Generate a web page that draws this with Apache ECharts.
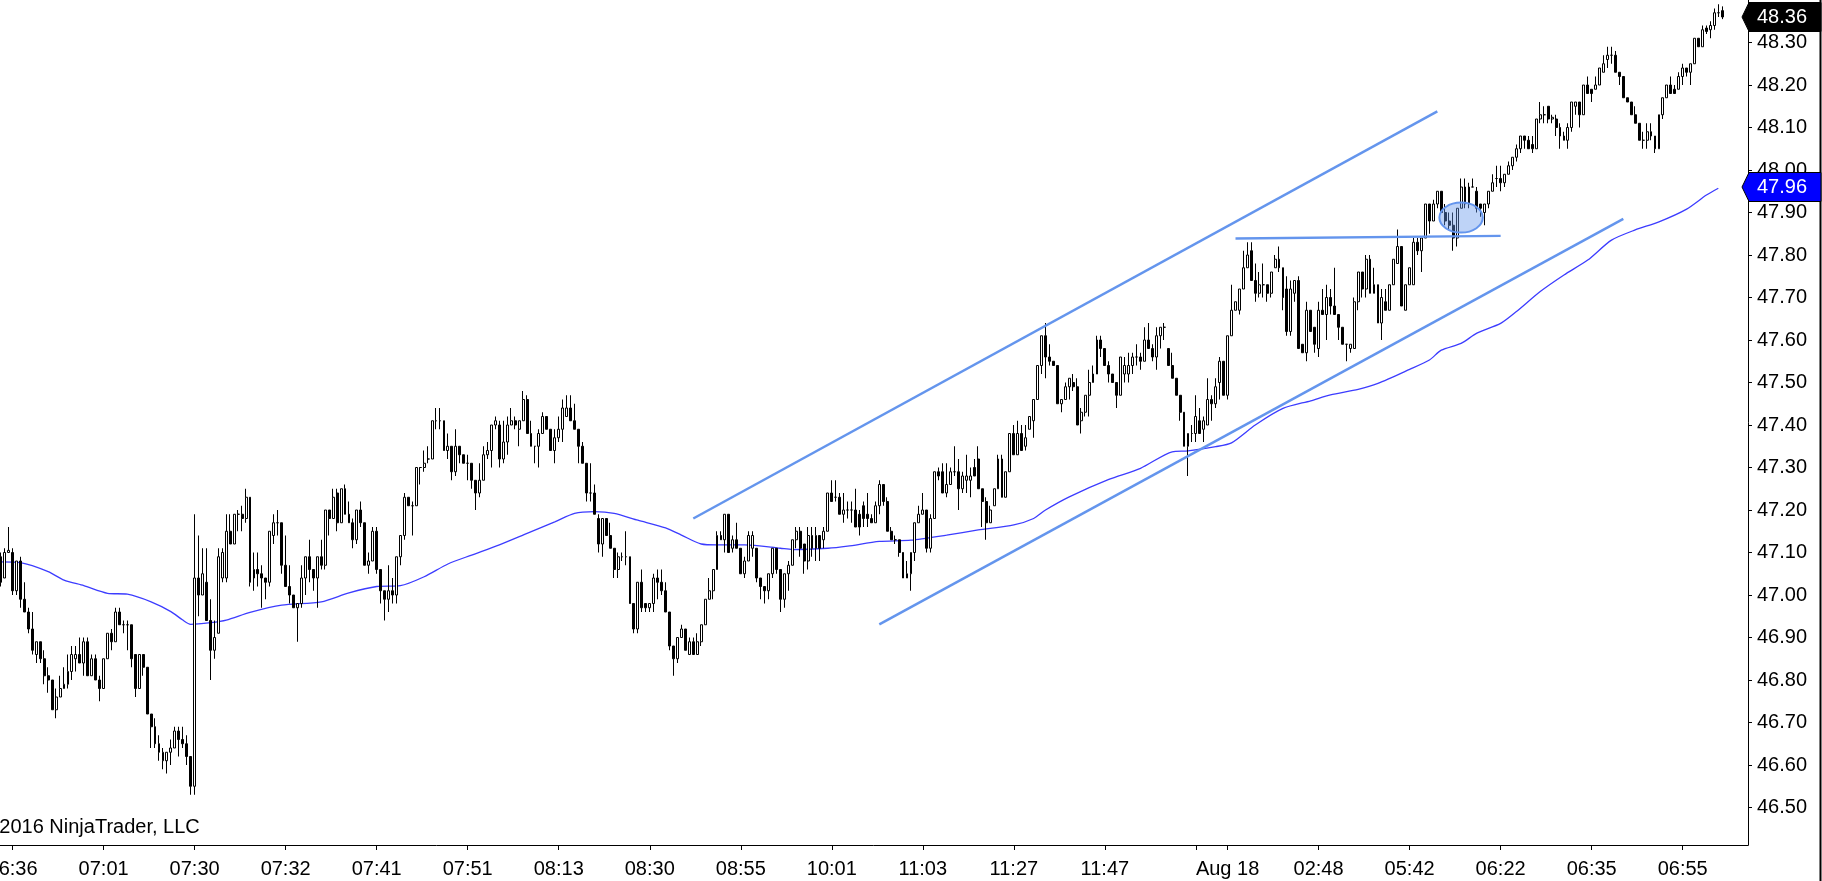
<!DOCTYPE html>
<html>
<head>
<meta charset="utf-8">
<script src="https://cdn.jsdelivr.net/npm/echarts@6.0.0/dist/echarts.min.js"></script>
<style>html,body{margin:0;padding:0;background:#fff;overflow:hidden}#c{width:1822px;height:881px}</style>
</head>
<body>
<div id="c"></div>
<script>
const opens = [
47.09,47.04,47.10,47.10,47.01,47.08,46.99,46.96,46.92,46.86,
46.89,46.85,46.81,46.80,46.73,46.76,46.78,46.79,46.82,46.85,
46.86,46.84,46.89,46.81,46.85,46.80,46.78,46.85,46.91,46.89,
46.96,46.93,46.93,46.93,46.86,46.78,46.86,46.83,46.72,46.69,
46.65,46.61,46.61,46.63,46.64,46.68,46.66,46.65,46.62,46.55,
47.04,47.00,47.03,46.94,46.87,46.91,47.04,47.04,47.15,47.12,
47.19,47.19,47.18,47.23,47.04,47.06,47.05,47.04,47.03,47.14,
47.17,47.17,47.07,47.02,47.00,46.97,46.98,47.04,47.09,47.06,
47.04,47.09,47.07,47.20,47.18,47.24,47.17,47.25,47.19,47.17,
47.13,47.20,47.17,47.07,47.08,47.15,47.06,47.01,46.99,47.01,
47.00,47.09,47.14,47.23,47.21,47.21,47.30,47.30,47.32,47.32,
47.41,47.41,47.41,47.34,47.35,47.29,47.35,47.33,47.31,47.31,
47.27,47.24,47.27,47.33,47.34,47.40,47.40,47.32,47.36,47.40,
47.41,47.39,47.41,47.46,47.38,47.35,47.35,47.38,47.42,47.39,
47.34,47.37,47.39,47.42,47.44,47.41,47.39,47.35,47.31,47.24,
47.24,47.18,47.12,47.18,47.14,47.11,47.06,47.09,47.09,47.09,
46.98,46.92,47.03,46.98,46.97,46.98,47.04,47.03,47.01,46.96,
46.88,46.85,46.90,46.92,46.86,46.89,46.86,46.89,46.93,46.99,
47.01,47.06,47.14,47.13,47.19,47.11,47.13,47.11,47.05,47.08,
47.11,47.11,47.04,47.02,47.01,47.05,47.11,47.06,46.99,47.05,
47.07,47.13,47.15,47.12,47.08,47.14,47.11,47.14,47.13,47.15,
47.24,47.23,47.23,47.19,47.20,47.20,47.20,47.19,47.21,47.19,
47.18,47.17,47.21,47.26,47.22,47.15,47.13,47.13,47.10,47.04,
47.05,47.10,47.17,47.19,47.20,47.11,47.18,47.29,47.29,47.24,
47.26,47.29,47.29,47.25,47.27,47.27,47.30,47.32,47.25,47.22,
47.17,47.21,47.25,47.32,47.23,47.29,47.38,47.33,47.38,47.35,
47.39,47.41,47.46,47.54,47.61,47.56,47.55,47.54,47.45,47.46,
47.49,47.50,47.49,47.41,47.43,47.47,47.50,47.52,47.60,47.58,
47.54,47.52,47.50,47.47,47.52,47.52,47.54,47.56,47.56,47.55,
47.60,47.58,47.56,47.61,47.63,47.58,47.54,47.51,47.47,47.43,
47.35,47.38,47.38,47.41,47.39,47.40,47.46,47.45,47.50,47.55,
47.47,47.61,47.67,47.67,47.72,47.77,47.81,47.74,47.71,47.73,
47.73,47.71,47.77,47.79,47.77,47.72,47.62,47.71,47.74,47.59,
47.57,47.67,47.63,47.58,47.67,47.66,47.70,47.68,47.66,47.63,
47.59,47.58,47.58,47.69,47.76,47.72,47.79,47.73,47.73,47.64,
47.69,47.67,47.73,47.78,47.82,47.67,47.73,47.73,47.83,47.81,
47.84,47.92,47.88,47.92,47.95,47.90,47.88,47.87,47.84,47.91,
47.96,47.92,47.96,47.95,47.92,47.90,47.92,47.95,47.98,47.98,
47.97,47.99,48.01,48.03,48.05,48.08,48.07,48.06,48.05,48.12,
48.13,48.15,48.12,48.12,48.10,48.08,48.07,48.10,48.15,48.16,
48.13,48.20,48.19,48.19,48.20,48.23,48.26,48.27,48.27,48.23,
48.22,48.17,48.16,48.13,48.11,48.07,48.07,48.09,48.08,48.05,
48.13,48.17,48.20,48.19,48.19,48.22,48.24,48.23,48.25,48.31,
48.29,48.334,48.33,48.34,48.37,48.375
];
const closes = [
47.03,47.10,47.105,47.01,47.08,46.99,46.96,46.92,46.87,46.89,
46.85,46.81,46.80,46.73,46.76,46.78,46.79,46.82,46.86,46.86,
46.84,46.89,46.81,46.85,46.80,46.78,46.85,46.91,46.89,46.96,
46.93,46.93,46.93,46.85,46.78,46.86,46.83,46.72,46.69,46.65,
46.63,46.63,46.63,46.64,46.68,46.66,46.65,46.62,46.55,47.04,
47.00,47.05,46.94,46.87,46.90,47.09,47.10,47.15,47.12,47.19,
47.19,47.18,47.23,47.03,47.06,47.05,47.04,47.03,47.15,47.17,
47.17,47.07,47.02,47.00,46.97,46.98,47.04,47.09,47.06,47.04,
47.09,47.07,47.20,47.18,47.23,47.17,47.25,47.19,47.17,47.13,
47.20,47.17,47.07,47.08,47.15,47.06,47.01,46.99,47.01,47.00,
47.09,47.14,47.23,47.21,47.21,47.30,47.30,47.31,47.32,47.41,
47.41,47.41,47.34,47.35,47.29,47.35,47.33,47.31,47.31,47.27,
47.24,47.27,47.33,47.34,47.40,47.41,47.32,47.36,47.40,47.41,
47.40,47.41,47.46,47.38,47.35,47.35,47.38,47.42,47.39,47.34,
47.37,47.39,47.44,47.44,47.41,47.39,47.35,47.31,47.24,47.24,
47.19,47.12,47.18,47.14,47.11,47.06,47.09,47.09,47.09,46.98,
46.92,47.03,46.97,46.97,46.98,47.04,47.03,47.01,46.96,46.88,
46.85,46.90,46.92,46.87,46.89,46.86,46.89,46.93,46.99,47.01,
47.06,47.14,47.13,47.19,47.10,47.13,47.11,47.05,47.08,47.14,
47.14,47.04,47.02,47.01,47.05,47.11,47.06,46.99,47.05,47.07,
47.13,47.15,47.11,47.08,47.14,47.11,47.14,47.11,47.15,47.24,
47.22,47.23,47.19,47.20,47.20,47.20,47.16,47.16,47.18,47.18,
47.17,47.21,47.26,47.22,47.15,47.13,47.13,47.10,47.04,47.05,
47.10,47.17,47.19,47.20,47.11,47.18,47.29,47.28,47.24,47.26,
47.29,47.29,47.25,47.28,47.28,47.28,47.28,47.25,47.22,47.17,
47.20,47.25,47.32,47.23,47.29,47.38,47.33,47.38,47.34,47.37,
47.42,47.46,47.54,47.61,47.56,47.55,47.54,47.45,47.46,47.49,
47.51,47.49,47.40,47.43,47.47,47.50,47.52,47.60,47.58,47.54,
47.52,47.50,47.47,47.56,47.54,47.54,47.56,47.56,47.55,47.60,
47.58,47.56,47.61,47.63,47.63,47.54,47.51,47.47,47.43,47.35,
47.38,47.38,47.42,47.38,47.41,47.46,47.45,47.49,47.55,47.47,
47.61,47.67,47.69,47.72,47.77,47.80,47.74,47.71,47.73,47.73,
47.71,47.76,47.79,47.77,47.70,47.62,47.72,47.74,47.58,47.57,
47.67,47.62,47.59,47.67,47.66,47.70,47.68,47.66,47.63,47.59,
47.59,47.59,47.69,47.76,47.72,47.79,47.71,47.71,47.64,47.70,
47.67,47.73,47.79,47.82,47.68,47.73,47.77,47.83,47.81,47.84,
47.92,47.88,47.92,47.95,47.90,47.88,47.87,47.84,47.91,47.96,
47.92,47.96,47.96,47.91,47.91,47.92,47.95,47.97,47.98,47.97,
47.99,48.01,48.03,48.05,48.08,48.07,48.05,48.05,48.12,48.13,
48.13,48.12,48.124,48.10,48.08,48.07,48.10,48.16,48.16,48.13,
48.20,48.18,48.18,48.20,48.24,48.25,48.27,48.27,48.23,48.22,
48.17,48.16,48.13,48.11,48.07,48.07,48.09,48.08,48.05,48.13,
48.17,48.20,48.18,48.18,48.22,48.24,48.23,48.25,48.31,48.29,
48.33,48.326,48.34,48.37,48.37,48.36
];
const lows = [
47.02,47.04,47.10,47.00,47.00,46.97,46.96,46.91,46.86,46.84,
46.84,46.79,46.77,46.73,46.71,46.76,46.78,46.78,46.80,46.82,
46.84,46.81,46.81,46.81,46.80,46.75,46.78,46.85,46.87,46.89,
46.93,46.91,46.87,46.83,46.76,46.78,46.81,46.72,46.64,46.64,
46.61,46.59,46.58,46.60,46.64,46.62,46.64,46.60,46.53,46.53,
46.95,47.00,46.94,46.80,46.85,46.91,47.03,47.03,47.12,47.12,
47.15,47.15,47.17,47.02,47.01,47.02,46.97,46.99,47.02,47.12,
47.14,47.05,47.02,46.98,46.97,46.89,46.97,47.00,47.03,47.01,
46.97,47.06,47.06,47.14,47.18,47.15,47.17,47.19,47.17,47.11,
47.12,47.16,47.07,47.05,47.08,47.05,46.98,46.94,46.96,46.98,
46.98,47.07,47.13,47.21,47.14,47.21,47.26,47.29,47.31,47.32,
47.39,47.39,47.34,47.32,47.27,47.28,47.31,47.31,47.27,47.25,
47.20,47.23,47.27,47.32,47.30,47.39,47.30,47.31,47.33,47.40,
47.39,47.35,47.41,47.38,47.35,47.31,47.30,47.38,47.39,47.34,
47.31,47.36,47.36,47.42,47.41,47.39,47.31,47.31,47.22,47.22,
47.19,47.10,47.09,47.14,47.11,47.04,47.04,47.08,47.07,46.98,
46.91,46.91,46.96,46.96,46.96,46.96,46.99,47.00,46.96,46.87,
46.81,46.84,46.90,46.87,46.86,46.86,46.86,46.88,46.93,46.99,
46.99,47.06,47.13,47.10,47.10,47.10,47.11,47.05,47.04,47.08,
47.09,47.03,46.99,46.98,46.99,47.04,47.05,46.96,46.97,47.01,
47.07,47.11,47.09,47.05,47.06,47.09,47.08,47.08,47.11,47.15,
47.22,47.22,47.19,47.17,47.18,47.17,47.16,47.14,47.16,47.16,
47.17,47.17,47.19,47.21,47.15,47.13,47.12,47.09,47.04,47.04,
47.01,47.08,47.17,47.19,47.10,47.10,47.18,47.27,47.24,47.23,
47.26,47.28,47.20,47.24,47.24,47.23,47.28,47.25,47.16,47.13,
47.17,47.21,47.25,47.23,47.23,47.29,47.33,47.33,47.34,47.34,
47.39,47.37,47.46,47.52,47.51,47.54,47.54,47.45,47.43,47.46,
47.46,47.48,47.40,47.38,47.42,47.42,47.50,47.52,47.56,47.54,
47.50,47.50,47.44,47.47,47.50,47.50,47.52,47.54,47.53,47.55,
47.58,47.55,47.53,47.58,47.60,47.54,47.51,47.47,47.41,47.35,
47.28,47.36,47.36,47.38,47.36,47.40,47.41,47.44,47.46,47.47,
47.46,47.61,47.67,47.66,47.72,47.77,47.74,47.69,47.70,47.70,
47.69,47.70,47.77,47.76,47.67,47.61,47.61,47.69,47.58,47.57,
47.55,47.62,47.57,47.56,47.66,47.60,47.66,47.66,47.60,47.59,
47.55,47.57,47.58,47.67,47.70,47.70,47.71,47.71,47.64,47.60,
47.67,47.67,47.73,47.78,47.68,47.67,47.73,47.73,47.80,47.76,
47.84,47.85,47.88,47.91,47.90,47.87,47.86,47.81,47.82,47.91,
47.91,47.91,47.96,47.90,47.89,47.87,47.91,47.95,47.96,47.95,
47.96,47.99,48.00,48.02,48.04,48.05,48.05,48.04,48.05,48.11,
48.11,48.11,48.11,48.08,48.05,48.07,48.05,48.09,48.13,48.10,
48.13,48.18,48.16,48.19,48.20,48.23,48.24,48.25,48.23,48.20,
48.17,48.16,48.13,48.11,48.07,48.05,48.05,48.07,48.04,48.05,
48.12,48.17,48.18,48.18,48.19,48.20,48.22,48.20,48.25,48.29,
48.29,48.32,48.31,48.33,48.36,48.355
];
const highs = [
47.10,47.11,47.16,47.11,47.08,47.09,47.03,46.97,46.96,46.89,
46.89,46.87,46.83,46.80,46.78,46.81,46.83,46.86,46.88,46.88,
46.90,46.90,46.90,46.86,46.86,46.81,46.85,46.91,46.92,46.97,
46.97,46.94,46.94,46.93,46.86,46.86,46.86,46.83,46.72,46.71,
46.67,46.64,46.63,46.66,46.69,46.69,46.69,46.67,46.62,47.19,
47.14,47.11,47.11,46.99,46.94,47.11,47.11,47.19,47.19,47.19,
47.20,47.21,47.25,47.23,47.10,47.10,47.07,47.04,47.15,47.19,
47.20,47.17,47.14,47.07,47.00,46.98,47.07,47.09,47.13,47.06,
47.09,47.13,47.20,47.20,47.25,47.25,47.25,47.26,47.22,47.18,
47.20,47.22,47.17,47.10,47.16,47.16,47.06,47.01,47.07,47.04,
47.09,47.14,47.24,47.23,47.22,47.30,47.30,47.34,47.35,47.41,
47.44,47.44,47.41,47.38,47.35,47.39,47.35,47.33,47.33,47.31,
47.27,47.31,47.35,47.36,47.40,47.42,47.41,47.41,47.42,47.44,
47.42,47.41,47.48,47.47,47.41,47.35,47.39,47.43,47.42,47.39,
47.39,47.42,47.46,47.47,47.47,47.45,47.39,47.36,47.31,47.31,
47.26,47.19,47.18,47.18,47.17,47.11,47.10,47.10,47.15,47.09,
46.98,47.03,47.06,46.98,46.98,47.05,47.06,47.06,47.03,46.96,
46.88,46.90,46.93,46.92,46.90,46.90,46.91,46.93,46.99,47.04,
47.06,47.15,47.15,47.19,47.19,47.14,47.17,47.11,47.09,47.15,
47.15,47.11,47.04,47.02,47.05,47.11,47.11,47.06,47.05,47.08,
47.13,47.16,47.16,47.12,47.16,47.16,47.16,47.14,47.16,47.24,
47.27,47.27,47.24,47.24,47.22,47.22,47.25,47.20,47.22,47.24,
47.19,47.22,47.27,47.26,47.23,47.16,47.14,47.13,47.10,47.08,
47.10,47.17,47.21,47.24,47.20,47.19,47.29,47.30,47.31,47.31,
47.30,47.35,47.32,47.29,47.33,47.30,47.32,47.35,47.25,47.23,
47.21,47.25,47.33,47.33,47.29,47.38,47.40,47.41,47.40,47.40,
47.42,47.46,47.54,47.61,47.64,47.59,47.55,47.54,47.46,47.50,
47.51,47.52,47.51,47.44,47.47,47.53,47.54,47.61,47.61,47.58,
47.55,47.52,47.50,47.56,47.56,47.57,47.57,47.59,47.57,47.63,
47.64,47.59,47.63,47.63,47.64,47.58,47.57,47.51,47.47,47.43,
47.38,47.40,47.47,47.44,47.42,47.51,47.47,47.51,47.56,47.55,
47.61,47.73,47.69,47.72,47.81,47.83,47.83,47.78,47.76,47.78,
47.73,47.76,47.80,47.82,47.77,47.75,47.74,47.74,47.75,47.59,
47.69,47.67,47.63,47.69,47.72,47.73,47.72,47.77,47.66,47.63,
47.59,47.59,47.70,47.76,47.76,47.80,47.80,47.77,47.73,47.72,
47.72,47.73,47.79,47.86,47.82,47.73,47.77,47.84,47.84,47.84,
47.92,47.92,47.93,47.95,47.95,47.92,47.90,47.90,47.91,47.98,
47.98,47.97,47.98,47.96,47.92,47.92,47.95,47.99,48.01,48.01,
47.99,48.02,48.03,48.06,48.08,48.08,48.08,48.08,48.12,48.16,
48.15,48.15,48.13,48.13,48.11,48.09,48.11,48.16,48.16,48.16,
48.20,48.22,48.19,48.22,48.24,48.27,48.29,48.29,48.28,48.23,
48.22,48.17,48.16,48.15,48.11,48.09,48.11,48.11,48.08,48.13,
48.17,48.20,48.22,48.20,48.23,48.25,48.24,48.25,48.31,48.31,
48.34,48.34,48.35,48.38,48.39,48.385
];

// moving average at selected bars
const maIndex = [0,5,12,16,21,27,32,38,43,46,48,53,57,63,71,81,88,95,101,107,113,119,126,133,140,145,150,155,161,168,172,177,181,188,197,200,209,214,222,230,239,247,256,261,264,270,280,288,296,300,307,311,317,324,331,336,343,348,356,361,364,369,373,379,383,389,395,401,407,413,419,426,431,434];
const maValues = [47.078,47.076,47.055,47.035,47.022,47.004,47.002,46.984,46.961,46.941,46.931,46.935,46.941,46.959,46.976,46.984,47.005,47.020,47.022,47.043,47.073,47.094,47.118,47.145,47.172,47.192,47.196,47.192,47.176,47.158,47.141,47.120,47.118,47.118,47.110,47.107,47.110,47.115,47.126,47.129,47.141,47.153,47.165,47.180,47.200,47.231,47.272,47.298,47.337,47.339,47.349,47.358,47.400,47.439,47.457,47.471,47.484,47.498,47.531,47.553,47.576,47.592,47.616,47.639,47.667,47.714,47.753,47.788,47.835,47.859,47.878,47.908,47.941,47.957];

// time-axis ticks (bar index -> label)
const tickIndex = [3,26,49,72,95,118,141,164,187,210,233,256,279,302,310,333,356,379,402,425];
const tickLabels = ['06:36','07:01','07:30','07:32','07:41','07:51','08:13','08:30','08:55','10:01','11:03','11:27','11:47','','Aug 18','02:48','05:42','06:22','06:35','06:55'];

// drawing objects (bar index, price)
const upperChannel = [[175, 47.180], [363, 48.138]];
const lowerChannel = [[222, 46.931], [410, 47.885]];
const resistance = [[312, 47.839], [379, 47.845]];
const ellipseCenter = [369, 47.888];

const lastPrice = 48.36;
const maLastPrice = 47.96;
const slotCount = 442;

const FONT = "'Liberation Sans', Arial, sans-serif";
const chart = echarts.init(document.getElementById('c'), null, {renderer: 'canvas', width: 1822, height: 881});
const categories = Array.from({length: slotCount}, (_, i) => i);
const candleData = opens.map((o, i) => [o, closes[i], lows[i], highs[i]]);
const maData = maIndex.map((k, i) => [k, maValues[i]]);
const tickMap = {};
tickIndex.forEach((k, i) => { tickMap[k] = tickLabels[i]; });
const isTick = (i) => Object.prototype.hasOwnProperty.call(tickMap, i);

const drawLine = (data) => ({
  type: 'line', data: data, symbol: 'none', silent: true, z: 5,
  lineStyle: {color: '#6495ED', width: 2.5}
});

chart.setOption({
  animation: false,
  backgroundColor: '#ffffff',
  grid: {left: -1.28, right: 74, top: 0, bottom: 31, containLabel: false, outerBoundsMode: 'none'},
  xAxis: {
    type: 'category', data: categories, boundaryGap: true, offset: -5,
    axisLine: {show: true, lineStyle: {color: '#000', width: 1}},
    axisTick: {show: true, alignWithLabel: true, interval: (i) => isTick(i), length: 5, lineStyle: {color: '#000'}},
    axisLabel: {interval: (i) => isTick(i), formatter: (v, i) => tickMap[i] || '', color: '#000', fontSize: 20, fontFamily: FONT, margin: 14,
      alignMinLabel: 'center', alignMaxLabel: 'center', hideOverlap: false},
    splitLine: {show: false}
  },
  yAxis: {
    type: 'value', position: 'right', min: 46.4, max: 48.4, interval: 0.1,
    axisLine: {show: false},
    axisTick: {show: true, length: 4, lineStyle: {color: '#000'}},
    axisLabel: {formatter: (v) => v.toFixed(2), color: '#000', fontSize: 20, fontFamily: FONT, margin: 9, showMinLabel: false, showMaxLabel: false},
    splitLine: {show: false}
  },
  series: [
    {
      type: 'line', data: maData, symbol: 'none', silent: true, z: 2, smooth: 0.25,
      lineStyle: {color: '#3c3cff', width: 1.3}
    },
    {
      type: 'candlestick', data: candleData, barWidth: 2.4, z: 3,
      itemStyle: {color: '#ffffff', color0: '#000000', borderColor: '#000000', borderColor0: '#000000', borderColorDoji: '#000000', borderWidth: 1}
    },
    drawLine(upperChannel),
    drawLine(lowerChannel),
    drawLine(resistance)
  ]
});

const yLast = chart.convertToPixel({yAxisIndex: 0}, lastPrice);
const yMa = chart.convertToPixel({yAxisIndex: 0}, maLastPrice);
const ell = chart.convertToPixel({xAxisIndex: 0, yAxisIndex: 0}, ellipseCenter);
const yBottom = chart.convertToPixel({yAxisIndex: 0}, 46.4) - 5;
const xRight = 1748;

function priceBox(c, fill, text) {
  return [
    {type: 'polygon', z: 200, shape: {points: [[xRight - 6, c], [xRight + 1, c - 14.5], [1821, c - 14.5], [1821, c + 14.5], [xRight + 1, c + 14.5]]},
     style: {fill: fill, stroke: '#000', lineWidth: 1}},
    {type: 'text', z: 201, x: 1757, y: c, style: {text: text, fill: '#fff', font: '20px ' + FONT, verticalAlign: 'middle', textVerticalAlign: 'middle'}}
  ];
}

chart.setOption({
  graphic: [
    {type: 'line', z: 150, shape: {x1: xRight + 0.5, y1: 0, x2: xRight + 0.5, y2: yBottom + 0.5}, style: {stroke: '#000', lineWidth: 1}},
    {type: 'line', z: 150, shape: {x1: 1820.5, y1: 0, x2: 1820.5, y2: 881}, style: {stroke: '#000', lineWidth: 2}},
    {type: 'ellipse', z: 120, shape: {cx: ell[0], cy: ell[1], rx: 21.7, ry: 15}, style: {fill: 'rgba(100,149,237,0.42)', stroke: '#6495ED', lineWidth: 2}},
    {type: 'text', z: 150, x: -21, y: 827, style: {text: '\u00a9 2016 NinjaTrader, LLC', fill: '#000', font: '20px ' + FONT, verticalAlign: 'middle', textVerticalAlign: 'middle'}},
    ...priceBox(yLast, '#000000', lastPrice.toFixed(2)),
    ...priceBox(yMa, '#0000ff', maLastPrice.toFixed(2))
  ]
});
</script>
</body>
</html>
